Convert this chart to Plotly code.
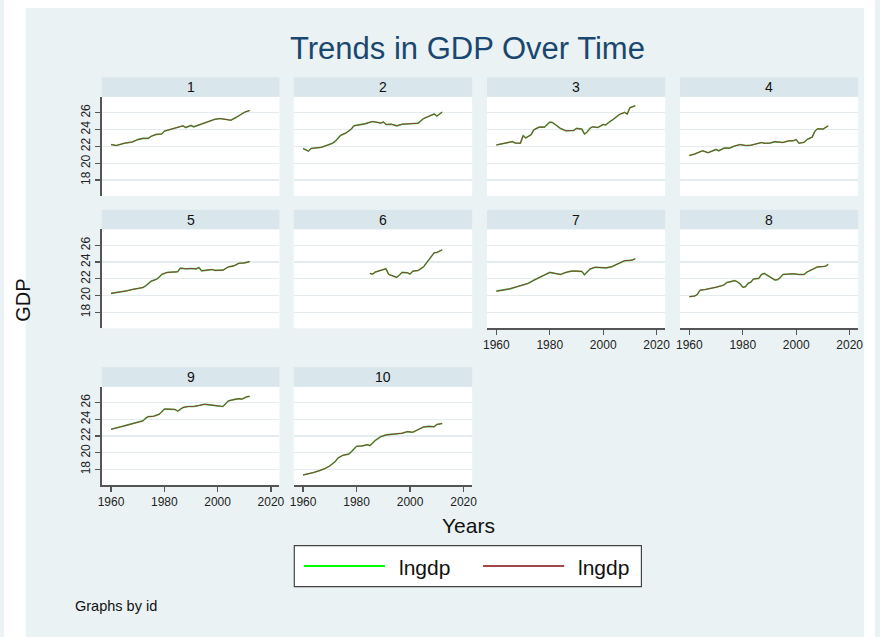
import plotly.graph_objects as go

W, H = 880, 637

# ---- data: log GDP (lngdp) by id ----
years_1 = [1960,1962,1965,1968,1970,1972,1974,1975,1977,1979,1980,1982,1984,1986,1987,1988,1989,1990,1991,1993,1995,1997,1999,2001,2002,2004,2005,2007,2009,2010,2012]
gdp_1 = [22.21,22.10,22.37,22.52,22.80,22.95,22.95,23.19,23.42,23.46,23.81,23.97,24.16,24.36,24.44,24.24,24.40,24.48,24.32,24.55,24.79,25.02,25.22,25.30,25.26,25.10,25.10,25.45,25.84,26.04,26.27]

years_2 = [1960,1962,1963,1965,1967,1969,1971,1972,1974,1976,1978,1979,1981,1983,1985,1986,1988,1989,1990,1991,1993,1995,1997,1999,2001,2003,2005,2007,2009,2010,2012]
gdp_2 = [21.74,21.43,21.74,21.86,21.90,22.13,22.37,22.60,23.30,23.58,24.05,24.44,24.55,24.67,24.87,24.95,24.83,24.75,24.90,24.60,24.63,24.44,24.63,24.67,24.75,24.75,25.30,25.57,25.84,25.60,26.08]

years_3 = [1960,1962,1964,1966,1967,1969,1970,1971,1973,1974,1976,1978,1980,1981,1982,1984,1986,1988,1989,1990,1992,1993,1994,1995,1996,1998,2000,2001,2002,2004,2006,2008,2009,2010,2012]
gdp_3 = [22.17,22.33,22.45,22.56,22.40,22.37,23.27,23.00,23.38,23.97,24.28,24.28,24.87,24.83,24.60,24.13,23.85,23.89,23.89,24.13,24.05,23.46,23.70,24.13,24.32,24.24,24.60,24.55,24.83,25.26,25.77,26.04,25.84,26.59,26.82]

years_4 = [1960,1962,1964,1965,1967,1969,1970,1971,1973,1975,1977,1979,1981,1983,1985,1987,1988,1990,1992,1994,1995,1997,1999,2000,2001,2003,2004,2006,2007,2008,2010,2012]
gdp_4 = [20.92,21.08,21.35,21.47,21.24,21.55,21.63,21.47,21.79,21.79,22.05,22.21,22.10,22.13,22.29,22.45,22.37,22.37,22.56,22.52,22.45,22.64,22.68,22.80,22.37,22.48,22.80,23.10,23.81,24.09,24.05,24.44]

years_5 = [1960,1962,1964,1966,1968,1970,1972,1973,1975,1977,1978,1979,1981,1983,1985,1986,1988,1990,1992,1993,1994,1996,1998,1999,2000,2002,2004,2006,2008,2010,2012]
gdp_5 = [20.26,20.34,20.49,20.57,20.73,20.88,20.96,21.16,21.70,21.94,22.17,22.52,22.76,22.80,22.84,23.27,23.19,23.23,23.19,23.34,22.95,23.03,23.10,23.00,23.03,23.03,23.42,23.54,23.85,23.89,24.05]

years_6 = [1985,1986,1987,1989,1990,1991,1992,1994,1995,1996,1997,1999,2000,2001,2003,2005,2007,2009,2010,2011,2012]
gdp_6 = [22.64,22.56,22.80,22.99,23.10,23.19,22.52,22.29,22.17,22.45,22.76,22.72,22.56,22.91,22.99,23.42,24.28,25.10,25.14,25.30,25.45]

years_7 = [1960,1962,1965,1968,1970,1972,1974,1976,1978,1980,1982,1984,1986,1988,1990,1992,1993,1994,1995,1997,1999,2001,2003,2005,2007,2008,2010,2011,2012]
gdp_7 = [20.53,20.61,20.80,21.08,21.23,21.47,21.82,22.09,22.45,22.76,22.60,22.52,22.76,22.91,22.91,22.88,22.48,22.76,23.15,23.38,23.30,23.30,23.42,23.70,24.05,24.16,24.20,24.24,24.40]

years_8 = [1960,1962,1963,1964,1966,1968,1970,1972,1973,1974,1976,1977,1978,1979,1980,1981,1982,1983,1984,1986,1987,1988,1989,1991,1992,1993,1994,1995,1997,1999,2001,2003,2004,2006,2008,2010,2011,2012]
gdp_8 = [19.87,19.95,20.14,20.65,20.73,20.84,21.00,21.16,21.27,21.55,21.66,21.78,21.63,21.39,21.00,21.04,21.47,21.59,21.98,22.05,22.52,22.64,22.45,22.05,21.86,21.90,22.13,22.52,22.56,22.60,22.52,22.52,22.80,23.07,23.42,23.46,23.50,23.73]

years_9 = [1960,1962,1964,1966,1968,1970,1972,1973,1974,1976,1978,1979,1980,1981,1983,1984,1985,1986,1987,1989,1991,1993,1995,1997,1999,2001,2002,2004,2006,2008,2009,2011,2012]
gdp_9 = [22.80,22.92,23.13,23.30,23.50,23.66,23.81,24.13,24.32,24.36,24.60,24.87,25.22,25.22,25.18,25.18,24.98,25.18,25.41,25.53,25.53,25.65,25.80,25.73,25.69,25.57,25.53,26.20,26.35,26.47,26.40,26.70,26.74]

years_10 = [1960,1962,1964,1966,1968,1970,1972,1973,1975,1977,1978,1980,1982,1984,1985,1987,1989,1991,1993,1995,1997,1999,2001,2003,2005,2007,2009,2010,2012]
gdp_10 = [17.33,17.45,17.64,17.84,18.07,18.42,18.93,19.36,19.71,19.83,20.10,20.77,20.80,20.96,20.84,21.47,21.90,22.13,22.17,22.25,22.33,22.52,22.45,22.76,23.07,23.15,23.11,23.38,23.50]

panel_ids = ["1", "2", "3", "4", "5", "6", "7", "8", "9", "10"]
panel_years = [years_1, years_2, years_3, years_4, years_5, years_6, years_7, years_8, years_9, years_10]
panel_gdp = [gdp_1, gdp_2, gdp_3, gdp_4, gdp_5, gdp_6, gdp_7, gdp_8, gdp_9, gdp_10]

y_ticks = [18, 20, 22, 24, 26]
x_ticks = [1960, 1980, 2000, 2020]
legend_labels = ["lngdp", "lngdp"]

# ---- styling ----
BG = "#EAF2F3"
STRIP = "#D9E6EB"
GRID = "#E4ECEF"
AXIS = "#555555"
GREEN = "#3CC83C"
MAROON = "#8E3A3A"
FONT = "Arial, Liberation Sans, sans-serif"

col_px = [(98.7, 278.3), (292.7, 473.0), (488.0, 668.0), (683.0, 863.0)]
row_px = [(96.7, 196.0), (229.3, 328.3), (386.7, 485.3)]
strip_h = 19.5

def px(x):
    return x / W

def py(y):
    return 1 - y / H

fig = go.Figure()
shapes = []
annotations = []
layout_axes = {}

for i, (pid, yrs, vals) in enumerate(zip(panel_ids, panel_years, panel_gdp)):
    r, c = divmod(i, 4)
    n = i + 1
    xa = "x" if n == 1 else f"x{n}"
    ya = "y" if n == 1 else f"y{n}"
    xkey = "xaxis" if n == 1 else f"xaxis{n}"
    ykey = "yaxis" if n == 1 else f"yaxis{n}"
    x0, x1 = col_px[c]
    y0, y1 = row_px[r]
    show_x = i >= 6
    show_y = c == 0
    layout_axes[xkey] = dict(
        domain=[px(x0), px(x1)], anchor=ya, range=[1956.5, 2023.2],
        showgrid=False, zeroline=False,
        showline=show_x, linecolor=AXIS, linewidth=1.5,
        ticks="outside" if show_x else "", ticklen=5, tickcolor=AXIS, tickwidth=1.2,
        tickvals=x_ticks, ticktext=[str(t) for t in x_ticks],
        showticklabels=show_x, tickfont=dict(size=12, color="#222", family=FONT),
        fixedrange=True,
    )
    layout_axes[ykey] = dict(
        domain=[py(y1), py(y0)], anchor=xa, range=[16.1, 27.9],
        showgrid=True, gridcolor=GRID, gridwidth=1.2, zeroline=False,
        showline=show_y, linecolor=AXIS, linewidth=1.5,
        ticks="outside" if show_y else "", ticklen=5, tickcolor=AXIS, tickwidth=1.2,
        tickvals=y_ticks, ticktext=[str(t) for t in y_ticks],
        showticklabels=show_y, tickangle=-90,
        tickfont=dict(size=12, color="#222", family=FONT),
        fixedrange=True,
    )
    fig.add_trace(go.Scatter(x=yrs, y=vals, mode="lines", xaxis=xa, yaxis=ya,
                             line=dict(color=GREEN, width=1.6), showlegend=False,
                             name=legend_labels[0]))
    fig.add_trace(go.Scatter(x=yrs, y=vals, mode="lines", xaxis=xa, yaxis=ya,
                             line=dict(color=MAROON, width=1.0),
                             showlegend=False, name=legend_labels[1]))
    # strip
    shapes.append(dict(type="rect", xref="paper", yref="paper",
                       x0=px(x0), x1=px(x1), y0=py(y0), y1=py(y0 - strip_h),
                       fillcolor=STRIP, line=dict(width=0), layer="below"))
    annotations.append(dict(text=pid, xref="paper", yref="paper",
                            x=px((x0 + x1) / 2), y=py(y0 - strip_h / 2),
                            showarrow=False, xanchor="center", yanchor="middle",
                            font=dict(size=14, color="#111", family=FONT)))

# white outer margins
for (a, b, cc, d) in [(0, 22, 0, H), (0, W, 0, 8), (869, W, 0, H)]:
    shapes.append(dict(type="rect", xref="paper", yref="paper",
                       x0=px(a), x1=px(b), y0=py(d), y1=py(cc),
                       fillcolor="white", line=dict(width=0), layer="below"))

# legend (drawn manually)
shapes.append(dict(type="rect", xref="paper", yref="paper",
                   x0=px(293.3), x1=px(644), y0=py(586.7), y1=py(545.7),
                   fillcolor="white", line=dict(color="#444", width=1.2)))
shapes.append(dict(type="line", xref="paper", yref="paper",
                   x0=px(303), x1=px(385), y0=py(566), y1=py(566),
                   line=dict(color="#00FF00", width=2)))
shapes.append(dict(type="line", xref="paper", yref="paper",
                   x0=px(484), x1=px(566), y0=py(566), y1=py(566),
                   line=dict(color="#A04848", width=2)))
annotations.append(dict(text=legend_labels[0], xref="paper", yref="paper", x=px(397), y=py(567),
                        showarrow=False, xanchor="left", yanchor="middle",
                        font=dict(size=21, color="#111", family=FONT)))
annotations.append(dict(text=legend_labels[1], xref="paper", yref="paper", x=px(578), y=py(567),
                        showarrow=False, xanchor="left", yanchor="middle",
                        font=dict(size=21, color="#111", family=FONT)))

# titles
annotations.append(dict(text="Trends in GDP Over Time", xref="paper", yref="paper",
                        x=px(468), y=py(48), showarrow=False, xanchor="center", yanchor="middle",
                        font=dict(size=31, color="#1A476F", family=FONT)))
annotations.append(dict(text="Years", xref="paper", yref="paper",
                        x=px(469), y=py(525), showarrow=False, xanchor="center", yanchor="middle",
                        font=dict(size=21, color="#111", family=FONT)))
annotations.append(dict(text="GDP", xref="paper", yref="paper", textangle=-90,
                        x=px(19), y=py(300), showarrow=False, xanchor="center", yanchor="middle",
                        font=dict(size=20, color="#111", family=FONT)))
annotations.append(dict(text="Graphs by id", xref="paper", yref="paper",
                        x=px(70), y=py(606), showarrow=False, xanchor="left", yanchor="middle",
                        font=dict(size=14.5, color="#111", family=FONT)))

fig.update_layout(
    width=W, height=H,
    margin=dict(l=0, r=0, t=0, b=0),
    paper_bgcolor=BG, plot_bgcolor="white",
    shapes=shapes, annotations=annotations,
    showlegend=False,
    **layout_axes,
)

fig.write_html(
    "out.html",
    config={"displayModeBar": False, "staticPlot": True},
    post_script="document.documentElement.style.margin='0';document.body.style.margin='0';"
                "document.body.style.padding='0';document.body.style.overflow='hidden';",
)
